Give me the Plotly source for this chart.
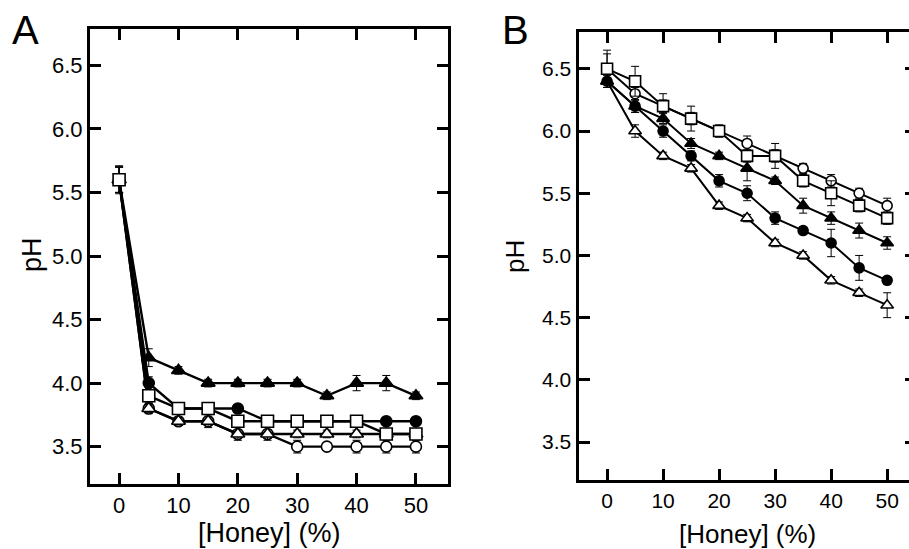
import plotly.graph_objects as go

honey = [0, 5, 10, 15, 20, 25, 30, 35, 40, 45, 50]

# Panel A
a_open_sq = [5.6, 3.9, 3.8, 3.8, 3.7, 3.7, 3.7, 3.7, 3.7, 3.6, 3.6]
a_open_sq_err = [0.11, 0.05, 0.04, 0.04, 0.04, 0.03, 0.03, 0.04, 0.04, 0.03, 0.03]
a_fill_tri = [5.6, 4.2, 4.1, 4.0, 4.0, 4.0, 4.0, 3.9, 4.0, 4.0, 3.9]
a_fill_tri_err = [0.1, 0.07, 0.03, 0.03, 0.03, 0.03, 0.03, 0.03, 0.06, 0.06, 0.03]
a_fill_cir = [5.6, 4.0, 3.8, 3.8, 3.8, 3.7, 3.7, 3.7, 3.7, 3.7, 3.7]
a_fill_cir_err = [0.1, 0.05, 0.03, 0.03, 0.03, 0.03, 0.03, 0.03, 0.03, 0.03, 0.03]
a_open_cir = [5.6, 3.8, 3.7, 3.7, 3.6, 3.6, 3.5, 3.5, 3.5, 3.5, 3.5]
a_open_cir_err = [0.1, 0.04, 0.03, 0.03, 0.03, 0.03, 0.05, 0.03, 0.05, 0.05, 0.05]
a_open_tri = [5.6, 3.8, 3.7, 3.7, 3.6, 3.6, 3.6, 3.6, 3.6, 3.6, 3.6]
a_open_tri_err = [0.1, 0.03, 0.03, 0.05, 0.05, 0.05, 0.03, 0.03, 0.03, 0.03, 0.03]

# Panel B
b_open_sq = [6.5, 6.4, 6.2, 6.1, 6.0, 5.8, 5.8, 5.6, 5.5, 5.4, 5.3]
b_open_sq_err = [0.15, 0.12, 0.1, 0.1, 0.04, 0.05, 0.1, 0.05, 0.1, 0.05, 0.05]
b_open_cir = [6.5, 6.3, 6.2, 6.1, 6.0, 5.9, 5.8, 5.7, 5.6, 5.5, 5.4]
b_open_cir_err = [0.12, 0.05, 0.05, 0.05, 0.05, 0.06, 0.05, 0.04, 0.05, 0.04, 0.06]
b_fill_tri = [6.4, 6.2, 6.1, 5.9, 5.8, 5.7, 5.6, 5.4, 5.3, 5.2, 5.1]
b_fill_tri_err = [0.05, 0.05, 0.04, 0.04, 0.03, 0.1, 0.03, 0.06, 0.05, 0.06, 0.05]
b_fill_cir = [6.4, 6.2, 6.0, 5.8, 5.6, 5.5, 5.3, 5.2, 5.1, 4.9, 4.8]
b_fill_cir_err = [0.05, 0.05, 0.05, 0.04, 0.05, 0.06, 0.05, 0.03, 0.11, 0.1, 0.03]
b_open_tri = [6.4, 6.0, 5.8, 5.7, 5.4, 5.3, 5.1, 5.0, 4.8, 4.7, 4.6]
b_open_tri_err = [0.05, 0.05, 0.03, 0.03, 0.03, 0.03, 0.03, 0.03, 0.03, 0.03, 0.1]

y_ticks = [3.5, 4.0, 4.5, 5.0, 5.5, 6.0, 6.5]
y_tick_text = ["3.5", "4.0", "4.5", "5.0", "5.5", "6.0", "6.5"]
x_ticks = [0, 10, 20, 30, 40, 50]
x_title = "[Honey] (%)"
y_title = "pH"

FONT = "Liberation Sans, Arial, sans-serif"

fig = go.Figure()


def add_series(x, y, err, symbol, filled, xa, ya, size, lw):
    fig.add_trace(go.Scatter(
        x=x, y=y, xaxis=xa, yaxis=ya, mode="lines+markers",
        line=dict(color="black", width=lw),
        marker=dict(symbol=symbol, size=size,
                    color="black" if filled else "white",
                    line=dict(color="black", width=1.6)),
        error_y=dict(type="data", array=err, visible=True, color="black",
                     thickness=1, width=4),
        showlegend=False, cliponaxis=False,
    ))


# Panel A (draw order: filled tri, filled circle, open circle, open tri, open square)
add_series(honey, a_fill_tri, a_fill_tri_err, "triangle-up", True, "x", "y", 12, 2.4)
add_series(honey, a_fill_cir, a_fill_cir_err, "circle", True, "x", "y", 11, 2.4)
add_series(honey, a_open_cir, a_open_cir_err, "circle", False, "x", "y", 11, 2.4)
add_series(honey, a_open_tri, a_open_tri_err, "triangle-up", False, "x", "y", 12, 2.4)
add_series(honey, a_open_sq, a_open_sq_err, "square", False, "x", "y", 12, 2.4)

# Panel B
add_series(honey, b_open_tri, b_open_tri_err, "triangle-up", False, "x2", "y2", 11, 2)
add_series(honey, b_fill_cir, b_fill_cir_err, "circle", True, "x2", "y2", 10, 2)
add_series(honey, b_fill_tri, b_fill_tri_err, "triangle-up", True, "x2", "y2", 11, 2)
add_series(honey, b_open_cir, b_open_cir_err, "circle", False, "x2", "y2", 10, 2)
add_series(honey, b_open_sq, b_open_sq_err, "square", False, "x2", "y2", 11, 2)

# dummy trace for right-side tick axis of B
fig.add_trace(go.Scatter(x=[], y=[], xaxis="x2", yaxis="y3", showlegend=False))

W, H = 909, 549
axis_common = dict(showgrid=False, zeroline=False, showline=True, linecolor="black",
                   linewidth=3, ticks="inside", tickcolor="black", tickwidth=2.5,
                   ticklen=11)

fig.update_layout(
    width=W, height=H, margin=dict(l=0, r=0, t=0, b=0),
    paper_bgcolor="white", plot_bgcolor="white",
    font=dict(family=FONT, color="black"),
    xaxis=dict(domain=[90 / W, 448 / W], range=[-4.9, 55.4], tickvals=x_ticks,
               mirror="ticks", anchor="y", tickfont=dict(size=22), **axis_common),
    yaxis=dict(domain=[1 - 483.5 / H, 1 - 28.5 / H], range=[3.21, 6.79],
               tickvals=y_ticks, ticktext=y_tick_text, mirror="ticks", anchor="x",
               tickfont=dict(size=22), **axis_common),
    xaxis2=dict(domain=[578.5 / W, 1.0], range=[-5.1, 53.9], tickvals=x_ticks,
                mirror="ticks", anchor="y2", tickfont=dict(size=21), **axis_common),
    yaxis2=dict(domain=[1 - 480 / H, 1 - 31.5 / H], range=[3.195, 6.80],
                tickvals=y_ticks, ticktext=y_tick_text, anchor="x2",
                tickfont=dict(size=21), **axis_common),
    yaxis3=dict(overlaying="y2", side="right", anchor="x2", range=[3.195, 6.80],
                tickvals=y_ticks, showticklabels=False, showgrid=False, zeroline=False,
                showline=False, ticks="inside", ticklen=4, tickwidth=2.5,
                tickcolor="black"),
)

fig.add_annotation(x=25 / W, y=1 - 30 / H, xref="paper", yref="paper", text="A",
                   showarrow=False, font=dict(size=40), xanchor="center", yanchor="middle")
fig.add_annotation(x=515 / W, y=1 - 30 / H, xref="paper", yref="paper", text="B",
                   showarrow=False, font=dict(size=40), xanchor="center", yanchor="middle")

# axis titles
fig.add_annotation(x=269 / W, y=1 - 533 / H, xref="paper", yref="paper", text=x_title,
                   showarrow=False, font=dict(size=27), xanchor="center", yanchor="middle",
                   borderpad=0)
fig.add_annotation(x=747 / W, y=1 - 534 / H, xref="paper", yref="paper", text=x_title,
                   showarrow=False, font=dict(size=26), xanchor="center", yanchor="middle",
                   borderpad=0)
fig.add_annotation(x=32 / W, y=1 - 255 / H, xref="paper", yref="paper", text=y_title,
                   showarrow=False, font=dict(size=27), textangle=-90,
                   xanchor="center", yanchor="middle")
fig.add_annotation(x=515 / W, y=1 - 257 / H, xref="paper", yref="paper", text=y_title,
                   showarrow=False, font=dict(size=26), textangle=-90,
                   xanchor="center", yanchor="middle")

fig.write_html(
    "out.html",
    config={"displayModeBar": False},
    post_script="document.body.style.margin='0px';document.body.style.overflow='hidden';",
)
